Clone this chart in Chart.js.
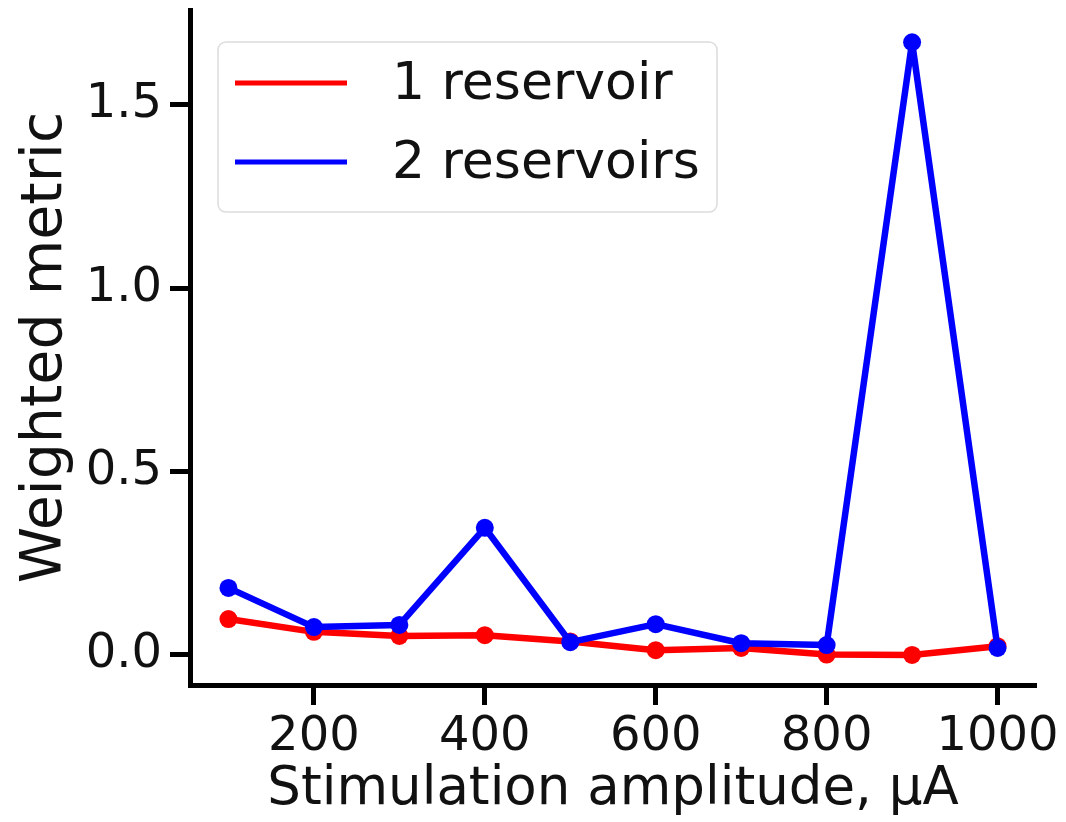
<!DOCTYPE html>
<html>
<head>
<meta charset="utf-8">
<title>Weighted metric vs stimulation amplitude</title>
<script src="https://cdn.jsdelivr.net/npm/chart.js@4"></script>
<style>
  html, body { margin: 0; padding: 0; background: #ffffff; }
  #wrap { width: 1066px; height: 822px; }
</style>
</head>
<body>
<div id="wrap"><canvas id="chart" width="1066" height="822"></canvas></div>
<script>
// Stimulation amplitudes (µA)
const amplitudes = [100, 200, 300, 400, 500, 600, 700, 800, 900, 1000];

// Weighted metric per configuration
const oneReservoir  = [0.097, 0.062, 0.051, 0.053, 0.036, 0.012, 0.018, 0.000, -0.001, 0.023];
const twoReservoirs = [0.182, 0.075, 0.081, 0.346, 0.034, 0.083, 0.031, 0.026, 1.671, 0.018];

const seriesNames  = ['1 reservoir', '2 reservoirs'];
const seriesColors = ['#ff0000', '#0000ff'];

// Axis ticks
const xTickValues = [200, 400, 600, 800, 1000];
const yTickValues = [0.0, 0.5, 1.0, 1.5];
const yTickLabels = ['0.0', '0.5', '1.0', '1.5'];

const FONT = 'DejaVu Sans';
const INK = '#111111';

function toPoints(xs, ys) {
  return xs.map((x, i) => ({ x: x, y: ys[i] }));
}

// Boxed legend in the upper-left corner of the plot area
const boxedLegend = {
  id: 'boxedLegend',
  afterDraw(chart) {
    const ctx = chart.ctx;
    const area = chart.chartArea;
    const x0 = area.left + 28, y0 = area.top + 32;
    const w = 499, h = 170, r = 8;
    ctx.save();
    ctx.beginPath();
    ctx.roundRect(x0, y0, w, h, r);
    ctx.fillStyle = 'rgba(255,255,255,0.85)';
    ctx.fill();
    ctx.lineWidth = 1.5;
    ctx.strokeStyle = '#dcdcdc';
    ctx.stroke();
    ctx.font = '52px "' + FONT + '"';
    ctx.textBaseline = 'middle';
    ctx.textAlign = 'left';
    chart.data.datasets.forEach((ds, i) => {
      const yy = y0 + 41 + i * 79;
      ctx.beginPath();
      ctx.moveTo(x0 + 17, yy);
      ctx.lineTo(x0 + 129, yy);
      ctx.lineWidth = 5;
      ctx.strokeStyle = ds.borderColor;
      ctx.stroke();
      ctx.fillStyle = INK;
      ctx.fillText(ds.label, x0 + 174, yy + 2);
    });
    ctx.restore();
  }
};

function lineSeries(i, values, order) {
  return {
    label: seriesNames[i],
    data: toPoints(amplitudes, values),
    borderColor: seriesColors[i],
    backgroundColor: seriesColors[i],
    borderWidth: 6.5,
    borderJoinStyle: 'round',
    borderCapStyle: 'round',
    pointRadius: 9,
    pointBorderWidth: 0,
    pointHoverRadius: 9,
    tension: 0,
    order: order
  };
}

new Chart(document.getElementById('chart'), {
  type: 'line',
  data: {
    datasets: [
      lineSeries(0, oneReservoir, 1),
      lineSeries(1, twoReservoirs, 0)
    ]
  },
  options: {
    responsive: false,
    animation: false,
    devicePixelRatio: 1,
    layout: { padding: { top: 10, right: 30, bottom: 0, left: 0 } },
    plugins: {
      legend: { display: false },
      tooltip: { enabled: false }
    },
    scales: {
      x: {
        type: 'linear',
        min: 55,
        max: 1045,
        afterFit(scale) {
          scale.height = 137;
          scale.paddingLeft = 0;
          scale.paddingRight = 0;
        },
        afterBuildTicks(scale) { scale.ticks = xTickValues.map(v => ({ value: v })); },
        border: { display: true, width: 5, color: '#000000' },
        grid: { display: true, drawOnChartArea: false, drawTicks: true, tickLength: 20, tickWidth: 5, tickColor: '#000000' },
        ticks: {
          color: INK,
          padding: 4,
          maxRotation: 0,
          autoSkip: false,
          font: { family: FONT, size: 48 },
          callback: v => String(v)
        },
        title: {
          display: true,
          text: 'Stimulation amplitude, µA',
          color: INK,
          padding: { top: 6, bottom: 0 },
          font: { family: FONT, size: 53 }
        }
      },
      y: {
        type: 'linear',
        min: -0.083,
        max: 1.759,
        afterFit(scale) {
          scale.width = 190;
          scale.paddingTop = 0;
          scale.paddingBottom = 0;
        },
        afterBuildTicks(scale) { scale.ticks = yTickValues.map(v => ({ value: v })); },
        border: { display: true, width: 5, color: '#000000' },
        grid: { display: true, drawOnChartArea: false, drawTicks: true, tickLength: 20, tickWidth: 5, tickColor: '#000000' },
        ticks: {
          color: INK,
          padding: 8,
          autoSkip: false,
          font: { family: FONT, size: 48 },
          callback: v => yTickLabels[yTickValues.indexOf(v)]
        },
        title: {
          display: true,
          text: 'Weighted metric',
          color: INK,
          padding: { top: 12, bottom: 0 },
          font: { family: FONT, size: 57 }
        }
      }
    }
  },
  plugins: [boxedLegend]
});
</script>
</body>
</html>
